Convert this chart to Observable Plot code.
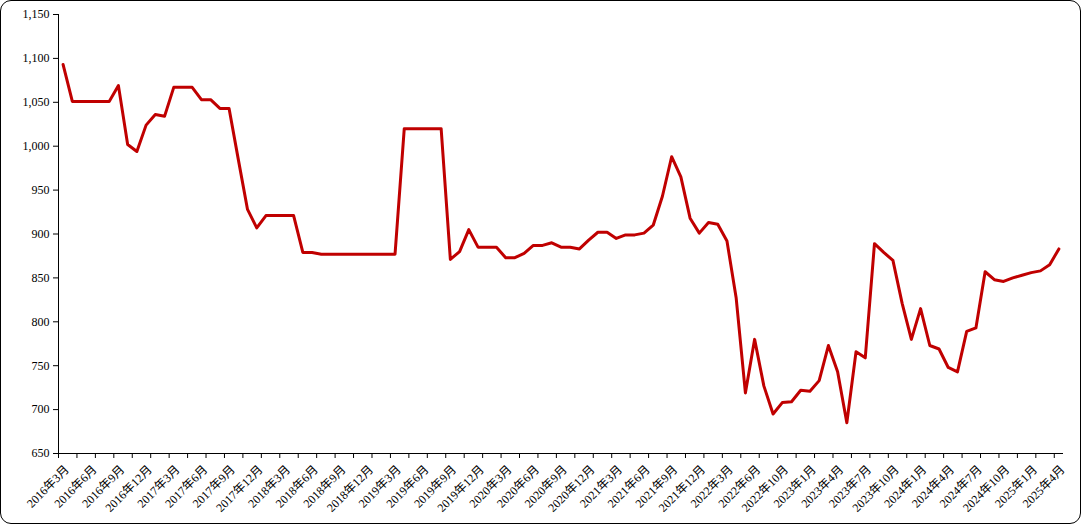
<!DOCTYPE html>
<html>
<head>
<meta charset="utf-8">
<script src="https://cdn.jsdelivr.net/npm/d3@7"></script>
<script src="https://cdn.jsdelivr.net/npm/@observablehq/plot@0.6"></script>
<style>
  html, body { margin: 0; padding: 0; background: #fff; }
  #wrap { position: relative; width: 1081px; height: 524px; overflow: hidden; background: #fff; }
  #frame { position: absolute; left: 0; top: 0; width: 1081px; height: 524px; box-sizing: border-box;
           border: 1.5px solid #000; border-radius: 11px; pointer-events: none; }
  svg { display: block; }
</style>
</head>
<body>
<div id="wrap"><div id="chart"></div><div id="frame"></div></div>
<script>
const categories = [
  "2016年3月","2016年4月","2016年5月","2016年6月","2016年7月","2016年8月","2016年9月","2016年10月","2016年11月","2016年12月",
  "2017年1月","2017年2月","2017年3月","2017年4月","2017年5月","2017年6月","2017年7月","2017年8月","2017年9月","2017年10月","2017年11月","2017年12月",
  "2018年1月","2018年2月","2018年3月","2018年4月","2018年5月","2018年6月","2018年7月","2018年8月","2018年9月","2018年10月","2018年11月","2018年12月",
  "2019年1月","2019年2月","2019年3月","2019年4月","2019年5月","2019年6月","2019年7月","2019年8月","2019年9月","2019年10月","2019年11月","2019年12月",
  "2020年1月","2020年2月","2020年3月","2020年4月","2020年5月","2020年6月","2020年7月","2020年8月","2020年9月","2020年10月","2020年11月","2020年12月",
  "2021年1月","2021年2月","2021年3月","2021年4月","2021年5月","2021年6月","2021年7月","2021年8月","2021年9月","2021年10月","2021年11月","2021年12月",
  "2022年1月","2022年2月","2022年3月","2022年4月","2022年5月","2022年6月","2022年7月","2022年8月","2022年10月","2022年11月","2022年12月",
  "2023年1月","2023年2月","2023年3月","2023年4月","2023年5月","2023年6月","2023年7月","2023年8月","2023年9月","2023年10月","2023年11月","2023年12月",
  "2024年1月","2024年2月","2024年3月","2024年4月","2024年5月","2024年6月","2024年7月","2024年8月","2024年9月","2024年10月","2024年11月","2024年12月",
  "2025年1月","2025年2月","2025年3月","2025年4月"
];

const values = [
  1093,1051,1051,1051,1051,1051,1069,1002,994,1024,
  1036,1034,1067,1067,1067,1053,1053,1043,1043,985,
  928,907,921,921,921,921,879,879,877,877,
  877,877,877,877,877,877,877,1020,1020,1020,
  1020,1020,871,880,905,885,885,885,873,873,
  878,887,887,890,885,885,883,893,902,902,
  895,899,899,901,910,943,988,965,918,901,
  913,911,892,827,719,780,727,695,708,709,
  722,721,733,773,743,685,766,759,889,879,
  870,821,780,815,773,769,748,743,789,793,
  857,848,846,850,853,856,858,865,883
];

const tickLabels = [
  "2016年3月","2016年6月","2016年9月","2016年12月",
  "2017年3月","2017年6月","2017年9月","2017年12月",
  "2018年3月","2018年6月","2018年9月","2018年12月",
  "2019年3月","2019年6月","2019年9月","2019年12月",
  "2020年3月","2020年6月","2020年9月","2020年12月",
  "2021年3月","2021年6月","2021年9月","2021年12月",
  "2022年3月","2022年6月","2022年10月",
  "2023年1月","2023年4月","2023年7月","2023年10月",
  "2024年1月","2024年4月","2024年7月","2024年10月",
  "2025年1月","2025年4月"
];

const yTicks = [650, 700, 750, 800, 850, 900, 950, 1000, 1050, 1100, 1150];

const n = categories.length;
const labelIdx = tickLabels.map(l => categories.indexOf(l));
const tickIdx = d3.range(0, n, 2);
const font = "'Liberation Serif', 'Times New Roman', 'Noto Sans CJK SC', serif";

const chart = Plot.plot({
  width: 1081,
  height: 524,
  marginLeft: 58,
  marginRight: 18,
  marginTop: 14,
  marginBottom: 71,
  x: { type: "linear", domain: [0, n], axis: null },
  y: { domain: [650, 1150], axis: null },
  style: { fontFamily: font, fontSize: "12px", color: "#000", background: "transparent" },
  marks: [
    Plot.axisY(yTicks, { tickSize: 5, tickPadding: 4, tickFormat: d3.format(","), fontSize: 12, label: null }),
    Plot.axisX(tickIdx, { tickSize: 5, tickFormat: () => "", label: null }),
    Plot.ruleX([0], { stroke: "#000", strokeWidth: 1 }),
    Plot.ruleY([650], { stroke: "#000", strokeWidth: 1 }),
    Plot.line(values, {
      x: (d, i) => i + 0.5,
      y: d => d,
      stroke: "#C00000",
      strokeWidth: 3,
      strokeLinejoin: "round",
      strokeLinecap: "round"
    }),
    Plot.text(labelIdx, {
      x: i => i + 0.5,
      frameAnchor: "bottom",
      text: i => categories[i],
      rotate: -45,
      textAnchor: "end",
      lineAnchor: "middle",
      dx: 4,
      dy: 14,
      fontSize: 12,
      fill: "#000"
    })
  ]
});
document.getElementById("chart").appendChild(chart);
</script>
</body>
</html>
